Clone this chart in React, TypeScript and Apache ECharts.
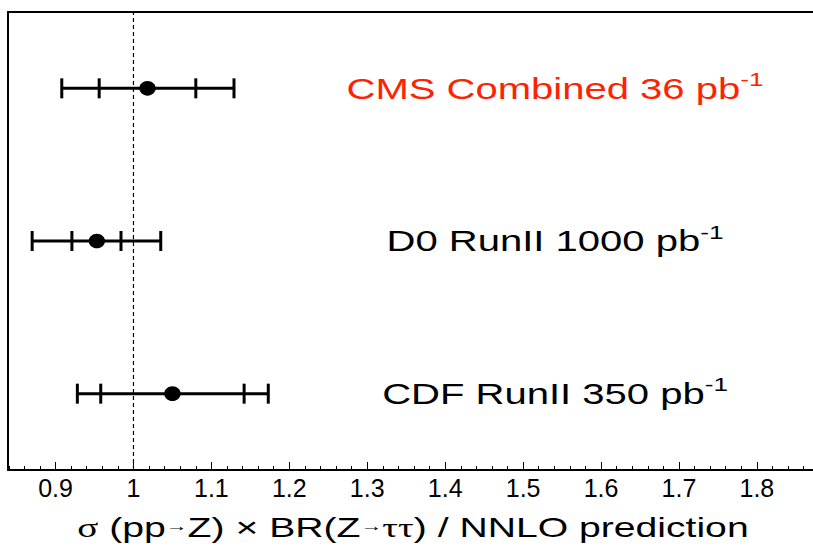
import { useEffect, useRef } from "react";
import * as echarts from "echarts";

// measurements, one entry per row (top to bottom)
const labels = ["CMS Combined 36 pb", "D0 RunII 1000 pb", "CDF RunII 350 pb"];
const labelColors = ["#ff2200", "#000000", "#000000"];
const rows = [2.5, 1.5, 0.5];
const central = [1.018, 0.953, 1.05];
const statLow = [0.956, 0.921, 0.958];
const statHigh = [1.08, 0.984, 1.142];
const totalLow = [0.908, 0.87, 0.928];
const totalHigh = [1.129, 1.035, 1.173];

const majorTicks = [0.9, 1.0, 1.1, 1.2, 1.3, 1.4, 1.5, 1.6, 1.7, 1.8];
const minorTicks: number[] = [];
for (let i = 42; i <= 93; i++) minorTicks.push(i / 50);

const refValue = 1;
const labelX = 1.541;
const xMin = 0.839;
const xMax = 1.872;

const SANS = "'Liberation Sans', Arial, Helvetica, sans-serif";
const SERIF = "'Liberation Serif', 'Times New Roman', serif";

export default function App() {
  const ref = useRef<HTMLDivElement>(null);

  useEffect(() => {
    if (!ref.current) return;
    const chart = echarts.init(ref.current, null, { renderer: "svg" });

    const data = rows.map((r, i) => [central[i], totalLow[i], statLow[i], statHigh[i], totalHigh[i], r]);

    chart.setOption({
      animation: false,
      backgroundColor: "#ffffff",
      grid: { left: 8, top: 12, right: 0, bottom: 76 },
      xAxis: [
        {
          type: "value",
          position: "bottom",
          min: xMin,
          max: xMax,
          axisLine: { show: true, lineStyle: { color: "#000", width: 2 } },
          axisTick: { show: true, inside: true, length: 8, customValues: majorTicks, lineStyle: { color: "#000", width: 1 } },
          axisLabel: {
            show: true,
            customValues: majorTicks,
            color: "#000",
            fontSize: 25,
            fontFamily: SANS,
            margin: 5,
          },
          splitLine: { show: false },
        },
        {
          type: "value",
          position: "bottom",
          min: xMin,
          max: xMax,
          axisLine: { show: false },
          axisTick: { show: true, inside: true, length: 4, customValues: minorTicks, lineStyle: { color: "#000", width: 1 } },
          axisLabel: { show: false },
          splitLine: { show: false },
        },
        {
          type: "value",
          position: "top",
          min: xMin,
          max: xMax,
          axisLine: { show: true, lineStyle: { color: "#000", width: 2 } },
          axisTick: { show: false },
          axisLabel: { show: false },
          splitLine: { show: false },
        },
      ],
      yAxis: {
        type: "value",
        min: 0,
        max: 3,
        axisLine: { show: true, lineStyle: { color: "#000", width: 2 } },
        axisTick: { show: false },
        axisLabel: { show: false },
        splitLine: { show: false },
      },
      graphic: [
        {
          type: "text",
          x: 413,
          y: 528,
          scaleX: 1.45,
          style: {
            text: "{s|σ} (pp{a|→}Z) × BR(Z{a|→}{s|ττ}) / NNLO prediction",
            align: "center",
            verticalAlign: "middle",
            fontSize: 27,
            fontFamily: SANS,
            fill: "#000",
            rich: {
              s: { fontSize: 27, fontFamily: SERIF, fill: "#000" },
              a: { fontSize: 15, fontFamily: SANS, fill: "#000", padding: [0, 0, 5, 0] },
            },
          },
        },
      ],
      series: [
        {
          type: "line",
          data: [
            [refValue, 0],
            [refValue, 3],
          ],
          symbol: "none",
          lineStyle: { color: "#000", width: 1.2, type: [4, 3] },
          silent: true,
          z: 1,
        },
        {
          type: "custom",
          data,
          encode: { x: [0, 1, 2, 3, 4], y: 5 },
          z: 3,
          renderItem: (params: any, api: any) => {
            const i = params.dataIndex;
            const y = api.value(5);
            const c = api.coord([api.value(0), y]);
            const tl = api.coord([api.value(1), y]);
            const sl = api.coord([api.value(2), y]);
            const sh = api.coord([api.value(3), y]);
            const th = api.coord([api.value(4), y]);
            const lp = api.coord([labelX, y]);
            const h = 10;
            const stroke = { stroke: "#000", lineWidth: 3 };
            const cap = (p: number[]) => ({
              type: "line",
              shape: { x1: p[0], y1: p[1] - h, x2: p[0], y2: p[1] + h },
              style: stroke,
            });
            return {
              type: "group",
              children: [
                { type: "line", shape: { x1: tl[0], y1: tl[1], x2: th[0], y2: th[1] }, style: stroke },
                cap(tl),
                cap(sl),
                cap(sh),
                cap(th),
                { type: "ellipse", shape: { cx: c[0], cy: c[1], rx: 8.2, ry: 7.3 }, style: { fill: "#000" } },
                {
                  type: "text",
                  x: lp[0],
                  y: lp[1],
                  scaleX: 1.38,
                  style: {
                    text: labels[i] + "{sup|-1}",
                    align: "center",
                    verticalAlign: "middle",
                    fontSize: 29,
                    fontFamily: SANS,
                    fill: labelColors[i],
                    rich: {
                      sup: { fontSize: 19, fontFamily: SANS, fill: labelColors[i], padding: [0, 0, 18, 0] },
                    },
                  },
                },
              ],
            };
          },
        },
      ],
    });

    return () => chart.dispose();
  }, []);

  return (
    <div
      ref={ref}
      style={{ position: "absolute", left: 0, top: 0, width: 813, height: 546, background: "#fff" }}
    />
  );
}
